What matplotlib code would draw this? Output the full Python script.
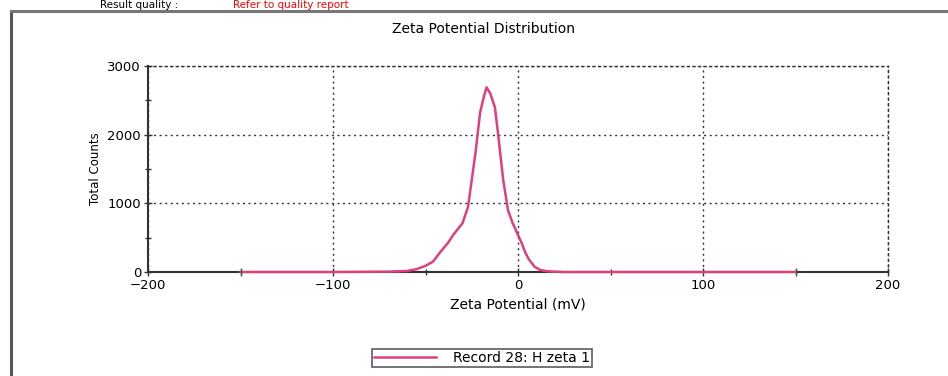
import matplotlib
matplotlib.use("Agg")
import matplotlib.pyplot as plt
from matplotlib.lines import Line2D

# Data
zeta_mv = [-150, -100, -70, -60, -55, -50, -46, -42, -38, -35, -33, -30, -27, -25,
           -23, -20.5, -18.5, -17, -15, -12.5, -10.8, -8, -5.4, -3, -0.5, 2, 4, 6,
           9, 12, 16, 25, 50, 100, 150]
total_counts = [0, 0, 5, 15, 40, 90, 150, 290, 420, 540, 610, 710, 950, 1340,
                1730, 2320, 2550, 2690, 2600, 2400, 2020, 1340, 900, 720, 570, 420,
                280, 180, 75, 30, 10, 0, 0, 0, 0]
x_ticks = [-200, -100, 0, 100, 200]
y_ticks = [0, 1000, 2000, 3000]
series_label = "Record 28: H zeta 1"

W, H = 948, 376
fig = plt.figure(figsize=(W / 100, H / 100), dpi=100)
fig.patch.set_facecolor("white")

# outer frame (left and top edges visible)
fig.add_artist(Line2D([11 / W, 11 / W], [0, 1 - 11 / H], color="#555555", lw=2.2))
fig.add_artist(Line2D([11 / W, 1], [1 - 11 / H, 1 - 11 / H], color="#777777", lw=2.2))

# header text
fig.text(100 / W, 1 - 0.5 / H, "Result quality :", fontsize=7.5, color="black",
         ha="left", va="top")
fig.text(233 / W, 1 - 0.5 / H, "Refer to quality report", fontsize=7.5, color="red",
         ha="left", va="top")

ax = fig.add_axes([148 / W, 104 / H, 740 / W, 206 / H])
line_color = "#de3f7e"
ax.plot(zeta_mv, total_counts, color=line_color, lw=1.8,
        marker="|", markevery=[0, len(zeta_mv) - 1], markersize=6,
        markeredgecolor="#555555", label=series_label, zorder=5, clip_on=False)

ax.set_xlim(-200, 200)
ax.set_ylim(0, 3000)
ax.set_xticks(x_ticks)
ax.set_yticks(y_ticks)
ax.set_xticks([-150, -50, 50, 150], minor=True)
ax.set_yticks([500, 1500, 2500], minor=True)
ax.tick_params(axis="both", which="major", direction="inout", length=6, width=1,
               labelsize=9.5, color="#333333", pad=2)
ax.tick_params(axis="both", which="minor", direction="inout", length=4, width=1,
               color="#333333")

ax.grid(True, which="major", color="#333333", linestyle=(0, (1.5, 2.5)), lw=1)
for s in ["left", "bottom"]:
    ax.spines[s].set_color("#333333")
    ax.spines[s].set_linewidth(1.5)
    ax.spines[s].set_zorder(2)
for s in ["top", "right"]:
    ax.spines[s].set_color("#333333")
    ax.spines[s].set_linestyle((0, (1.5, 2.5)))
    ax.spines[s].set_linewidth(1)

ax.set_title("Zeta Potential Distribution", fontsize=10, pad=24, x=0.453)
ax.set_xlabel("Zeta Potential (mV)", fontsize=10, labelpad=4)
ax.set_ylabel("Total Counts", fontsize=8.5, labelpad=4)

leg = fig.legend(handles=[Line2D([0], [0], color=line_color, lw=1.8)],
                 labels=[series_label], loc="center",
                 bbox_to_anchor=(482 / W, 1 - 358 / H), fontsize=10,
                 frameon=True, fancybox=False, edgecolor="#333333",
                 handlelength=4.5, borderpad=0.15, handletextpad=1.2)
leg.get_frame().set_linewidth(1.2)

fig.savefig("out.png", dpi=100)
